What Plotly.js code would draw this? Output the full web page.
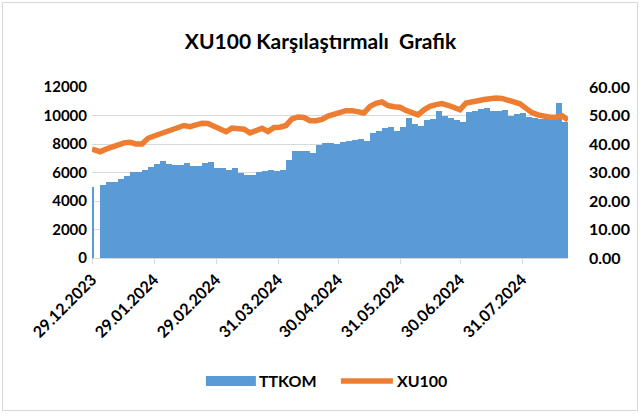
<!DOCTYPE html>
<html>
<head>
<meta charset="utf-8">
<script src="https://cdn.plot.ly/plotly-3.0.1.min.js"></script>
<style>
  html, body { margin: 0; padding: 0; background: #ffffff; }
  #frame { position: absolute; left: 2px; top: 2px; width: 636px; height: 409px; border: 1px solid #d9d9d9; box-sizing: border-box; pointer-events: none; z-index: 5; }
  #chart { position: absolute; left: 0; top: 0; width: 641px; height: 414px; }
</style>
</head>
<body>
<div id="chart"></div>
<div id="frame"></div>
<script>
// ---- data ----
const dates = [
  "2023-12-29",
  "2024-01-02","2024-01-05","2024-01-08","2024-01-11","2024-01-14","2024-01-17","2024-01-20","2024-01-23","2024-01-26","2024-01-29",
  "2024-02-01","2024-02-04","2024-02-07","2024-02-10","2024-02-13","2024-02-16","2024-02-19","2024-02-22","2024-02-25","2024-02-28",
  "2024-03-02","2024-03-05","2024-03-08","2024-03-11","2024-03-14","2024-03-17","2024-03-20","2024-03-23","2024-03-26","2024-03-29",
  "2024-04-01","2024-04-04","2024-04-07","2024-04-10","2024-04-13","2024-04-16","2024-04-19","2024-04-22","2024-04-25","2024-04-28",
  "2024-05-01","2024-05-04","2024-05-07","2024-05-10","2024-05-13","2024-05-16","2024-05-19","2024-05-22","2024-05-25","2024-05-28","2024-05-31",
  "2024-06-03","2024-06-06","2024-06-09","2024-06-12","2024-06-15","2024-06-18","2024-06-21","2024-06-24","2024-06-27","2024-06-30",
  "2024-07-03","2024-07-06","2024-07-09","2024-07-12","2024-07-15","2024-07-18","2024-07-21","2024-07-24","2024-07-27","2024-07-30",
  "2024-08-02","2024-08-05","2024-08-08","2024-08-11","2024-08-14","2024-08-17","2024-08-20","2024-08-23"
];

const ttkom = [
  4980,
  5125, 5360, 5360, 5550, 5780, 6015, 6015, 6180, 6400, 6575,
  6800, 6600, 6560, 6550, 6700, 6480, 6480, 6690, 6760, 6340,
  6300, 6180, 6300, 6000, 5830, 5830, 6060, 6100, 6150, 6100,
  6180, 6900, 7510, 7510, 7510, 7350, 7900, 8050, 8100, 8000,
  8120, 8200, 8300, 8330, 8180, 8750, 8900, 9100, 9180, 8930, 9200,
  9850, 9400, 9230, 9700, 9760, 10350, 9950, 9800, 9690, 9550,
  10250, 10300, 10440, 10500, 10330, 10300, 10400, 10000, 10100, 10160,
  9920, 9800, 9780, 9780, 9760, 10860, 9560, null
];

const xu100 = [
  38.2,
  37.3, 38.2, 39.0, 39.7, 40.4, 40.6, 40.0, 40.0, 42.0, 42.8,
  43.5, 44.2, 44.8, 45.6, 46.5, 46.1, 46.8, 47.3, 47.2, 46.3,
  45.2, 44.3, 45.6, 45.5, 45.2, 43.9, 44.8, 45.5, 44.4, 45.8,
  45.9, 46.5, 48.8, 49.5, 49.3, 48.2, 48.2, 48.6, 49.8, 50.6,
  51.4, 51.7, 51.7, 51.2, 50.9, 53.2, 54.3, 54.8, 53.5, 53.1, 52.9,
  51.8, 50.8, 50.2, 52.0, 53.2, 53.8, 54.2, 53.6, 53.0, 52.0,
  54.4, 54.6, 55.2, 55.6, 55.9, 56.1, 56.0, 55.2, 54.7, 54.1,
  52.5, 51.0, 50.2, 49.6, 49.4, 49.5, 49.9, 48.4
];

const tickDates = ["2023-12-29","2024-01-29","2024-02-29","2024-03-31","2024-04-30","2024-05-31","2024-06-30","2024-07-31"];
const tickLabels = ["29.12.2023","29.01.2024","29.02.2024","31.03.2024","30.04.2024","31.05.2024","30.06.2024","31.07.2024"];

// ---- build traces ----
const DAY = 86400000;
const barWidths = dates.map((d, i) => {
  if (i === dates.length - 1) return 0;
  const next = new Date(dates[i + 1]).getTime();
  const cur = new Date(d).getTime();
  return i === 0 ? DAY : (next - cur);
});

const FONT = "Lato, 'Open Sans', 'DejaVu Sans', sans-serif";

const traces = [
  {
    type: 'bar', name: 'TTKOM', x: dates, y: ttkom,
    width: barWidths, offset: 0,
    marker: { color: '#5B9BD5', line: { width: 0 } },
    yaxis: 'y', hoverinfo: 'x+y'
  },
  {
    type: 'scatter', mode: 'lines', name: 'XU100', x: dates, y: xu100,
    line: { color: '#ED7D31', width: 5.5 },
    yaxis: 'y2', hoverinfo: 'x+y'
  }
];

const layout = {
  width: 641, height: 414,
  margin: { l: 92, r: 73, t: 87, b: 156 },
  paper_bgcolor: '#ffffff', plot_bgcolor: '#ffffff',
  font: { family: FONT, color: '#000000', size: 14, weight: 700 },
  title: {
    text: 'XU100 Karşılaştırmalı\u00a0 Grafik',
    font: { family: FONT, size: 21, weight: 700, color: '#000000' },
    x: 0.5, xanchor: 'center', y: 0.9, yanchor: 'middle'
  },
  bargap: 0,
  showlegend: true,
  legend: {
    orientation: 'h', x: 0.5145, xanchor: 'center', y: -0.72, yanchor: 'middle',
    font: { family: FONT, size: 16, weight: 700 },
    itemwidth: 50, traceorder: 'normal',
    entrywidth: 73, entrywidthmode: 'pixels'
  },
  xaxis: {
    type: 'date',
    range: ['2023-12-29', '2024-08-23'],
    tickmode: 'array', tickvals: tickDates, ticktext: tickLabels,
    tickangle: -45,
    tickfont: { family: FONT, size: 16, weight: 700 },
    ticks: 'outside', ticklen: 5, tickcolor: '#d9d9d9', tickwidth: 1,
    showline: true, linecolor: '#d9d9d9', linewidth: 1,
    showgrid: false, zeroline: false
  },
  yaxis: {
    range: [0, 12000], dtick: 2000, tick0: 0,
    tickformat: 'd',
    tickfont: { family: FONT, size: 15, weight: 700 },
    showgrid: true, gridcolor: '#d9d9d9', gridwidth: 1,
    zeroline: false, showline: false, ticks: '',
    ticklabelstandoff: 4
  },
  yaxis2: {
    range: [0, 60], dtick: 10, tick0: 0,
    tickformat: '.2f',
    overlaying: 'y', side: 'right',
    tickfont: { family: FONT, size: 16, weight: 700 },
    showgrid: false, zeroline: false, showline: false, ticks: '',
    ticklabelstandoff: 20
  }
};

Plotly.newPlot('chart', traces, layout, { displayModeBar: false, staticPlot: true }).then(gd => {
  // widen legend symbols like the reference
  const bars = gd.querySelectorAll('.legend .legendpoints path');
  bars.forEach(p => {
    if (p.getAttribute('d') && p.getAttribute('d').indexOf('H') >= 0) {
      p.setAttribute('d', 'M-23,5h50v-10h-50Z');
    }
  });
  const lines = gd.querySelectorAll('.legend path.js-line');
  lines.forEach(p => p.setAttribute('d', 'M4,0h52'));
});
</script>
</body>
</html>
